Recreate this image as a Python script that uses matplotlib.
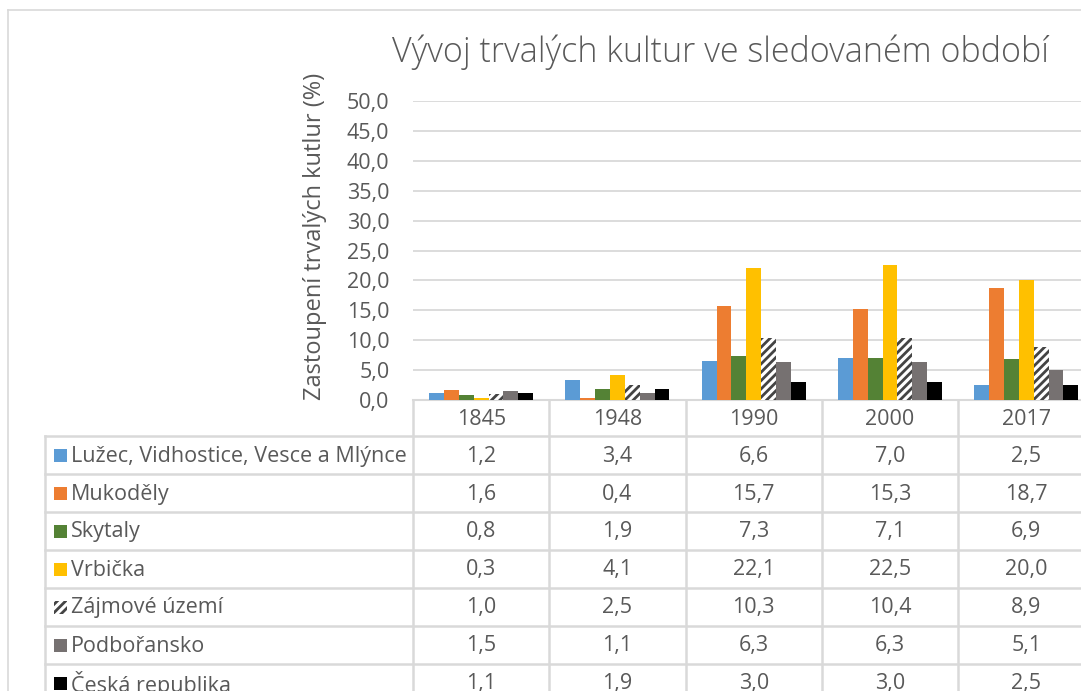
import matplotlib.pyplot as plt
import numpy as np
from matplotlib.ticker import FuncFormatter
from matplotlib.patches import Rectangle

plt.rcParams['font.family'] = ['Open Sans', 'DejaVu Sans']
plt.rcParams['hatch.linewidth'] = 2.0

years = ["1845", "1948", "1990", "2000", "2017"]
series = ["Lužec, Vidhostice, Vesce a Mlýnce", "Mukoděly", "Skytaly", "Vrbička",
          "Zájmové území", "Podbořansko", "Česká republika"]
luzec = [1.2, 3.4, 6.6, 7.0, 2.5]
mukodely = [1.6, 0.4, 15.7, 15.3, 18.7]
skytaly = [0.8, 1.9, 7.3, 7.1, 6.9]
vrbicka = [0.3, 4.1, 22.1, 22.5, 20.0]
zajmove = [1.0, 2.5, 10.3, 10.4, 8.9]
podboransko = [1.5, 1.1, 6.3, 6.3, 5.1]
cr = [1.1, 1.9, 3.0, 3.0, 2.5]
values = [luzec, mukodely, skytaly, vrbicka, zajmove, podboransko, cr]

colors = ["#5B9BD5", "#ED7D31", "#548235", "#FFC000", "white", "#767171", "#000000"]
hatches = [None, None, None, None, "////", None, None]
txt = "#595959"
grid = "#D9D9D9"
fs = 15.5

W, H = 1081, 691
fig = plt.figure(figsize=(W / 100, H / 100), dpi=100)

# layout in pixels
x0, colw = 413, 136.3
y0, y50 = 400, 101
tab_left = 45
head_h, row_h = 36, 38

ax = fig.add_axes([x0 / W, 1 - y0 / H, 5 * colw / W, (y0 - y50) / H])
ax.set_xlim(-0.5, 4.5)
ax.set_ylim(0, 50)

bw = 0.109
x = np.arange(len(years))
for i, vals in enumerate(values):
    pos = x + (i - 3) * bw
    if hatches[i]:
        ax.bar(pos, vals, bw, color="white", edgecolor="#444444", hatch=hatches[i],
               linewidth=0, zorder=3)
    else:
        ax.bar(pos, vals, bw, color=colors[i], linewidth=0, zorder=3)

ax.set_yticks(np.arange(0, 51, 5))
ax.yaxis.set_major_formatter(FuncFormatter(lambda v, p: f"{v:.1f}".replace(".", ",")))
ax.tick_params(axis="y", length=0, pad=17, labelsize=fs, labelcolor=txt)
ax.set_xticks([])
ax.grid(axis="y", color=grid, linewidth=1.3, zorder=0)
for s in ["top", "right", "left"]:
    ax.spines[s].set_visible(False)
ax.spines["bottom"].set_color(grid)
ax.spines["bottom"].set_linewidth(1.5)

fig.text(720 / W, 1 - 52 / H, "Vývoj trvalých kultur ve sledovaném období",
         ha="center", va="center", fontsize=24.5, fontweight="light", color=txt)
fig.text(315 / W, 1 - 236 / H, "Zastoupení trvalých kutlur (%)", rotation=90,
         ha="center", va="center", fontsize=17, color=txt)

# data table below the plot
tb = fig.add_axes([0, 0, 1, 1], zorder=-1)
tb.set_xlim(0, W)
tb.set_ylim(H, 0)
tb.axis("off")
lc = grid
lw = 1.8
# outer chart frame
tb.plot([8, W + 5], [10, 10], color=lc, lw=1.2)
tb.plot([8, 8], [10, H + 5], color=lc, lw=1.2)
# column lines
for j in range(len(years) + 1):
    xx = x0 + j * colw
    tb.plot([xx, xx], [y0, H + 5], color=lc, lw=lw)
tb.plot([tab_left, tab_left], [y0 + head_h, H + 5], color=lc, lw=lw)
for k in range(len(series)):
    yy = y0 + head_h + k * row_h
    tb.plot([tab_left, W + 5], [yy, yy], color=lc, lw=lw)

for j, yr in enumerate(years):
    tb.text(x0 + (j + 0.5) * colw, y0 + head_h / 2 + 1, yr, ha="center", va="center",
            fontsize=fs, color=txt)
for k, name in enumerate(series):
    yc = y0 + head_h + (k + 0.5) * row_h + 1
    tb.add_patch(Rectangle((54, yc - 7), 13, 13, facecolor=colors[k],
                           edgecolor="#444444" if hatches[k] else "none",
                           hatch=hatches[k], linewidth=0))
    tb.text(71, yc, name, ha="left", va="center", fontsize=fs, color=txt)
    for j in range(len(years)):
        tb.text(x0 + (j + 0.5) * colw, yc, f"{values[k][j]:.1f}".replace(".", ","),
                ha="center", va="center", fontsize=fs, color=txt)

fig.savefig("out.png", dpi=100)
